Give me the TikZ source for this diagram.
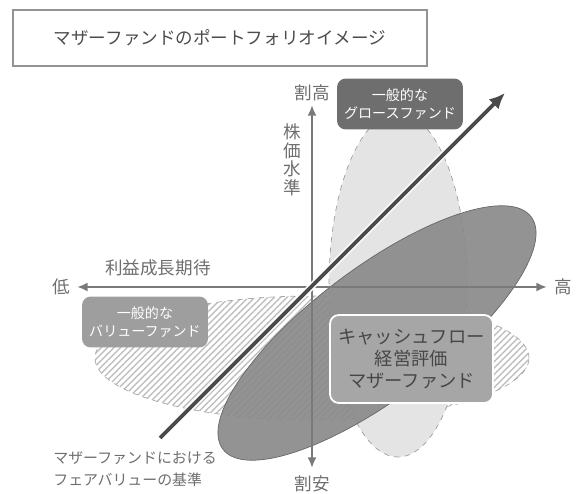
\documentclass[tikz,border=0pt]{standalone}
\usepackage{fontspec}
\setmainfont{Noto Sans CJK JP}
\usetikzlibrary{calc, positioning, arrows.meta, patterns.meta}
\definecolor{axisgray}{HTML}{7A7A7A}
\definecolor{labelgray}{HTML}{6E6E6E}
\definecolor{darkline}{HTML}{4A4A4A}
\definecolor{growthfill}{HTML}{E4E4E4}
\definecolor{cffill}{HTML}{8A8A8A}
\def\px{0.02cm}
\tikzstyle{axis}=[draw=axisgray, line width=1.2pt, {Latex[length=6pt,width=5pt]}-{Latex[length=6pt,width=5pt]}]
\tikzstyle{axis label}=[text=labelgray, font=\fontsize{10}{10.5}\selectfont, inner sep=1pt]
\tikzstyle{title box}=[draw=gray!85, line width=0.8pt, text=black!70, minimum width=8.28cm, minimum height=1.12cm, font=\fontsize{10}{12}\selectfont]
\tikzstyle{fund box}=[rounded corners=5pt, align=center, text=white, minimum width=2.52cm, minimum height=1.02cm, font=\fontsize{8}{10}\selectfont]
\tikzstyle{growth box}=[fund box, fill=black!57]
\tikzstyle{value box}=[fund box, fill=black!38]
\tikzstyle{cf box}=[rounded corners=5pt, align=center, fill=black!35, draw=white, line width=1pt, text=black!72, minimum width=3.26cm, minimum height=1.76cm, font=\fontsize{10.4}{12.8}\selectfont]
\tikzstyle{annot}=[text=labelgray, align=left, inner sep=0pt, font=\fontsize{8.5}{12.5}\selectfont]

\begin{document}
\begin{tikzpicture}[x=\px, y=\px]
	\useasboundingbox (0,0) rectangle (576,494);

	% Title
	\node[title box] (title) at (220,456) {マザーファンドのポートフォリオイメージ};

	% Fund areas
	\draw[dashed, draw=gray!70, pattern={Lines[angle=45, distance=2.6pt, line width=0.8pt]}, pattern color=gray!50]
		(312,136) ellipse [x radius=217, y radius=62];
	\draw[dashed, draw=gray!75, fill=growthfill] (398,209) ellipse [x radius=69, y radius=172];
	\draw[draw=black!60, fill=cffill, fill opacity=0.92, rotate around={37:(377,161)}]
		(377,161) ellipse [x radius=193, y radius=65];

	% Axes
	\coordinate (O) at (312,207);
	\coordinate (ytop) at (312,389);
	\coordinate (ybot) at (312,26);
	\coordinate (xleft) at (77,207);
	\coordinate (xright) at (547,207);
	\draw[axis] (ybot) -- (ytop);
	\draw[axis] (xleft) -- (xright);

	% Annotate the axes
	\node[axis label, above=1pt of ytop] (dear) {割高};
	\node[axis label, below=3pt of ybot] (cheap) {割安};
	\node[axis label, left=3pt of xleft] (low) {低};
	\node[axis label, right=3pt of xright] (high) {高};
	\node[axis label] (growth axis) at (158,226) {利益成長期待};
	\node[axis label, align=center] (price axis) at (292,334) {株\\価\\水\\準};

	% Fair value line
	\coordinate (fvlow) at (160,56);
	\coordinate (fvhigh) at (505,401);
	\draw[white, line width=4pt] (fvlow) -- ($(fvhigh)!0.05!(fvlow)$);
	\draw[darkline, line width=2.2pt, -{Latex[length=9pt,width=8pt]}] (fvlow) -- (fvhigh);
	\node[annot, anchor=west] (fv note) at (53,25) {マザーファンドにおける\\フェアバリューの基準};

	% Fund labels
	\node[growth box] (growth) at (400,390) {一般的な\\グロースファンド};
	\node[value box] (value) at (145,172) {一般的な\\バリューファンド};
	\node[cf box] (cf) at (411.5,135) {キャッシュフロー\\経営評価\\マザーファンド};
\end{tikzpicture}
\end{document}
